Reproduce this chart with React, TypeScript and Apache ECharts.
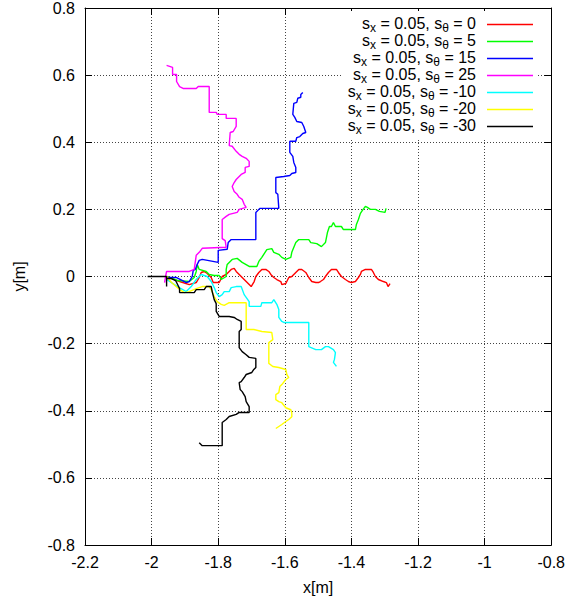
import React, { useEffect, useRef } from "react";
import * as echarts from "echarts";

const thetaLabels = ["0", "5", "15", "25", "-10", "-20", "-30"];
const colors = ["#ff0000", "#00ff00", "#0000ff", "#ff00ff", "#00ffff", "#ffff00", "#000000"];

const xTicks = { min: -2.2, max: -0.8, interval: 0.2 };
const yTicks = { min: -0.8, max: 0.8, interval: 0.2 };

const red = [
  [-1.955, 0.0], [-1.916, -0.015], [-1.887, -0.024], [-1.866, -0.018], [-1.857, -0.003], [-1.851, 0.012],
  [-1.842, 0.015], [-1.833, 0.009], [-1.821, -0.003], [-1.815, -0.018], [-1.797, -0.018], [-1.788, 0.0],
  [-1.776, 0.006], [-1.761, 0.021], [-1.752, 0.024], [-1.746, 0.015], [-1.728, -0.003], [-1.716, -0.015],
  [-1.707, -0.024], [-1.701, -0.03], [-1.692, -0.015], [-1.687, 0.0], [-1.678, 0.012], [-1.669, 0.021],
  [-1.657, 0.021], [-1.648, 0.015], [-1.642, 0.006], [-1.633, -0.003], [-1.624, -0.009], [-1.612, -0.015],
  [-1.609, -0.024], [-1.597, -0.021], [-1.594, -0.015], [-1.588, -0.003], [-1.579, 0.0], [-1.567, 0.012],
  [-1.558, 0.021], [-1.549, 0.021], [-1.537, 0.012], [-1.528, -0.003], [-1.519, -0.015], [-1.507, -0.018],
  [-1.499, -0.018], [-1.493, -0.015], [-1.484, -0.009], [-1.478, 0.0], [-1.469, 0.012], [-1.46, 0.021],
  [-1.445, 0.021], [-1.439, 0.012], [-1.43, 0.0], [-1.418, -0.009], [-1.409, -0.015], [-1.4, -0.018],
  [-1.388, -0.015], [-1.379, -0.003], [-1.373, 0.006], [-1.37, 0.015], [-1.358, 0.021], [-1.34, 0.021],
  [-1.334, 0.012], [-1.328, 0.0], [-1.319, -0.009], [-1.304, -0.015], [-1.295, -0.018], [-1.29, -0.03],
  [-1.284, -0.021],
];

const green = [
  [-1.955, 0.0], [-1.922, -0.012], [-1.887, -0.015], [-1.872, -0.003], [-1.866, 0.015], [-1.863, 0.036],
  [-1.857, 0.021], [-1.836, 0.015], [-1.827, 0.006], [-1.812, 0.003], [-1.797, 0.003], [-1.791, -0.009],
  [-1.776, 0.0], [-1.776, 0.021], [-1.773, 0.036], [-1.758, 0.051], [-1.743, 0.054], [-1.728, 0.042],
  [-1.707, 0.03], [-1.684, 0.03], [-1.678, 0.045], [-1.669, 0.057], [-1.654, 0.08], [-1.639, 0.083],
  [-1.633, 0.072], [-1.618, 0.066], [-1.609, 0.057], [-1.597, 0.051], [-1.582, 0.057], [-1.579, 0.072],
  [-1.567, 0.101], [-1.558, 0.11], [-1.528, 0.11], [-1.522, 0.101], [-1.504, 0.098], [-1.49, 0.089],
  [-1.478, 0.101], [-1.472, 0.131], [-1.466, 0.149], [-1.46, 0.149], [-1.454, 0.161], [-1.448, 0.149],
  [-1.43, 0.149], [-1.424, 0.14], [-1.388, 0.14], [-1.385, 0.155], [-1.379, 0.17], [-1.373, 0.188],
  [-1.367, 0.197], [-1.358, 0.209], [-1.352, 0.206], [-1.343, 0.2], [-1.328, 0.2], [-1.316, 0.194],
  [-1.299, 0.191], [-1.296, 0.203],
];

const blue = [
  [-1.955, -0.003], [-1.925, -0.003], [-1.907, -0.012], [-1.896, -0.018], [-1.887, -0.015], [-1.878, 0.0],
  [-1.875, 0.018], [-1.869, 0.021], [-1.863, 0.036], [-1.857, 0.048], [-1.848, 0.051], [-1.8, 0.042],
  [-1.8, 0.078], [-1.773, 0.081], [-1.77, 0.101], [-1.761, 0.11], [-1.687, 0.11], [-1.687, 0.191],
  [-1.675, 0.203], [-1.618, 0.203], [-1.621, 0.245], [-1.627, 0.25], [-1.627, 0.295], [-1.603, 0.298],
  [-1.585, 0.301], [-1.579, 0.307], [-1.567, 0.31], [-1.567, 0.325], [-1.573, 0.34], [-1.576, 0.358],
  [-1.585, 0.37], [-1.585, 0.403], [-1.567, 0.403], [-1.564, 0.414], [-1.555, 0.417], [-1.546, 0.426],
  [-1.537, 0.429], [-1.543, 0.447], [-1.549, 0.459], [-1.564, 0.462], [-1.57, 0.474], [-1.576, 0.483],
  [-1.573, 0.516], [-1.564, 0.519], [-1.561, 0.531], [-1.552, 0.534], [-1.552, 0.542], [-1.546, 0.548],
];

const magenta = [
  [-1.961, -0.018], [-1.958, 0.0], [-1.955, 0.015], [-1.887, 0.015], [-1.872, 0.021], [-1.866, 0.063],
  [-1.857, 0.072], [-1.848, 0.084], [-1.776, 0.087], [-1.779, 0.107], [-1.788, 0.113], [-1.788, 0.17],
  [-1.776, 0.179], [-1.767, 0.185], [-1.743, 0.191], [-1.737, 0.2], [-1.716, 0.206], [-1.722, 0.215],
  [-1.728, 0.23], [-1.737, 0.236], [-1.743, 0.245], [-1.752, 0.253], [-1.758, 0.268], [-1.752, 0.28],
  [-1.746, 0.289], [-1.737, 0.298], [-1.731, 0.304], [-1.719, 0.31], [-1.719, 0.325], [-1.707, 0.328],
  [-1.707, 0.343], [-1.716, 0.352], [-1.728, 0.358], [-1.737, 0.364], [-1.746, 0.373], [-1.758, 0.388],
  [-1.767, 0.39], [-1.764, 0.429], [-1.755, 0.432], [-1.746, 0.447], [-1.746, 0.471], [-1.776, 0.471],
  [-1.776, 0.483], [-1.803, 0.483], [-1.806, 0.489], [-1.827, 0.489], [-1.827, 0.566], [-1.86, 0.566],
  [-1.866, 0.56], [-1.904, 0.56], [-1.916, 0.566], [-1.925, 0.581], [-1.925, 0.602], [-1.937, 0.602],
  [-1.937, 0.623], [-1.955, 0.629],
];

const cyan = [
  [-1.955, -0.009], [-1.922, -0.03], [-1.896, -0.045], [-1.881, -0.03], [-1.866, -0.009], [-1.851, 0.006],
  [-1.833, 0.0], [-1.821, -0.015], [-1.812, -0.033], [-1.806, -0.048], [-1.797, -0.06], [-1.788, -0.054],
  [-1.782, -0.045], [-1.767, -0.045], [-1.761, -0.033], [-1.746, -0.03], [-1.731, -0.03], [-1.722, -0.054],
  [-1.707, -0.075], [-1.707, -0.089], [-1.672, -0.089], [-1.669, -0.078], [-1.639, -0.078], [-1.633, -0.069],
  [-1.624, -0.083], [-1.618, -0.098], [-1.618, -0.122], [-1.609, -0.134], [-1.603, -0.137], [-1.528, -0.137],
  [-1.528, -0.209], [-1.507, -0.218], [-1.49, -0.218], [-1.478, -0.209], [-1.469, -0.209], [-1.454, -0.218],
  [-1.448, -0.227], [-1.451, -0.247], [-1.454, -0.256], [-1.445, -0.268],
];

const yellow = [
  [-1.955, 0.0], [-1.94, -0.018], [-1.916, -0.039], [-1.901, -0.048], [-1.887, -0.045], [-1.866, -0.036],
  [-1.848, -0.03], [-1.827, -0.03], [-1.821, -0.039], [-1.812, -0.06], [-1.803, -0.075], [-1.791, -0.083],
  [-1.782, -0.086], [-1.767, -0.078], [-1.716, -0.078], [-1.716, -0.158], [-1.693, -0.158], [-1.669, -0.164],
  [-1.639, -0.167], [-1.636, -0.188], [-1.648, -0.197], [-1.648, -0.259], [-1.636, -0.268], [-1.618, -0.271],
  [-1.597, -0.277], [-1.594, -0.292], [-1.588, -0.301], [-1.597, -0.307], [-1.609, -0.322], [-1.615, -0.328],
  [-1.618, -0.346], [-1.627, -0.352], [-1.627, -0.367], [-1.618, -0.373], [-1.609, -0.376], [-1.597, -0.391],
  [-1.582, -0.397], [-1.579, -0.406], [-1.579, -0.418], [-1.588, -0.426], [-1.597, -0.432], [-1.609, -0.441],
  [-1.618, -0.447], [-1.627, -0.453],
];

const black = [
  [-2.012, 0.0], [-1.955, 0.0], [-1.955, -0.03], [-1.955, -0.006], [-1.94, -0.006], [-1.928, -0.012],
  [-1.922, -0.024], [-1.916, -0.036], [-1.916, -0.048], [-1.872, -0.048], [-1.866, -0.039], [-1.842, -0.039],
  [-1.836, -0.03], [-1.821, -0.03], [-1.818, -0.045], [-1.812, -0.069], [-1.806, -0.081], [-1.806, -0.104],
  [-1.797, -0.119], [-1.767, -0.119], [-1.752, -0.122], [-1.743, -0.128], [-1.731, -0.134], [-1.731, -0.158],
  [-1.737, -0.164], [-1.737, -0.212], [-1.728, -0.224], [-1.716, -0.233], [-1.707, -0.241], [-1.687, -0.244],
  [-1.687, -0.271], [-1.693, -0.277], [-1.699, -0.286], [-1.716, -0.292], [-1.722, -0.301], [-1.731, -0.313],
  [-1.737, -0.316], [-1.734, -0.337], [-1.728, -0.343], [-1.719, -0.358], [-1.716, -0.373], [-1.707, -0.388],
  [-1.707, -0.405], [-1.737, -0.405], [-1.746, -0.411], [-1.767, -0.417], [-1.776, -0.426], [-1.788, -0.435],
  [-1.788, -0.504], [-1.848, -0.504], [-1.857, -0.495],
];

const seriesData = [red, green, blue, magenta, cyan, yellow, black];

const FONT = "'Liberation Sans', Arial, sans-serif";

export default function App() {
  const ref = useRef<HTMLDivElement>(null);
  useEffect(() => {
    if (!ref.current) return;
    const chart = echarts.init(ref.current, null, { renderer: "svg" });
    const gridLine = { show: true, lineStyle: { color: "#444", width: 1, type: [1, 2] as any } };
    const baseAxis = (extra: any) => ({
      type: "value",
      axisLine: { show: true, onZero: false, lineStyle: { color: "#000", width: 1 } },
      axisTick: { show: true, inside: true, length: 7, lineStyle: { color: "#000" } },
      ...extra,
    });
    chart.setOption({
      animation: false,
      backgroundColor: "#fff",
      textStyle: { fontFamily: FONT },
      grid: { left: 85, right: 14, top: 8, bottom: 58, containLabel: false },
      xAxis: [
        baseAxis({
          ...xTicks,
          position: "bottom",
          name: "x[m]",
          nameLocation: "middle",
          nameGap: 34,
          nameTextStyle: { fontSize: 16, color: "#000", fontFamily: FONT },
          axisLabel: { fontSize: 16, color: "#000", margin: 9, fontFamily: FONT },
          splitLine: gridLine,
        }),
        baseAxis({
          ...xTicks,
          position: "top",
          axisLabel: { show: false },
          splitLine: { show: false },
        }),
      ],
      yAxis: [
        baseAxis({
          ...yTicks,
          position: "left",
          name: "y[m]",
          nameLocation: "middle",
          nameGap: 58,
          nameRotate: 90,
          nameTextStyle: { fontSize: 16, color: "#000", fontFamily: FONT },
          axisLabel: { fontSize: 16, color: "#000", margin: 10, fontFamily: FONT },
          splitLine: gridLine,
        }),
        baseAxis({
          ...yTicks,
          position: "right",
          axisLabel: { show: false },
          splitLine: { show: false },
        }),
      ],
      legend: {
        data: thetaLabels,
        orient: "vertical",
        right: 30,
        top: 11,
        align: "right",
        icon: "rect",
        itemWidth: 46,
        itemHeight: 1.5,
        itemGap: -2,
        backgroundColor: "#fff",
        padding: [4, 5, 4, 5],
        formatter: (name: string) => `{n|s}{sub|x}{n| = 0.05, s}{sub|θ}{n| = ${name}}`,
        textStyle: {
          fontFamily: FONT,
          padding: [0, 6, 0, 0],
          rich: {
            n: { fontSize: 16, color: "#000", verticalAlign: "top", fontFamily: FONT },
            sub: { fontSize: 12, padding: [7, 0, 0, 0], color: "#000", verticalAlign: "top", fontFamily: FONT },
          },
        },
      },
      series: thetaLabels.map((name, i) => ({
        name,
        type: "line",
        xAxisIndex: 0,
        yAxisIndex: 0,
        data: seriesData[i],
        symbol: "none",
        showSymbol: false,
        color: colors[i],
        lineStyle: { color: colors[i], width: 1.4 },
      })),
    });
    return () => chart.dispose();
  }, []);
  return <div ref={ref} style={{ position: "absolute", left: 0, top: 0, width: 568, height: 603 }} />;
}
